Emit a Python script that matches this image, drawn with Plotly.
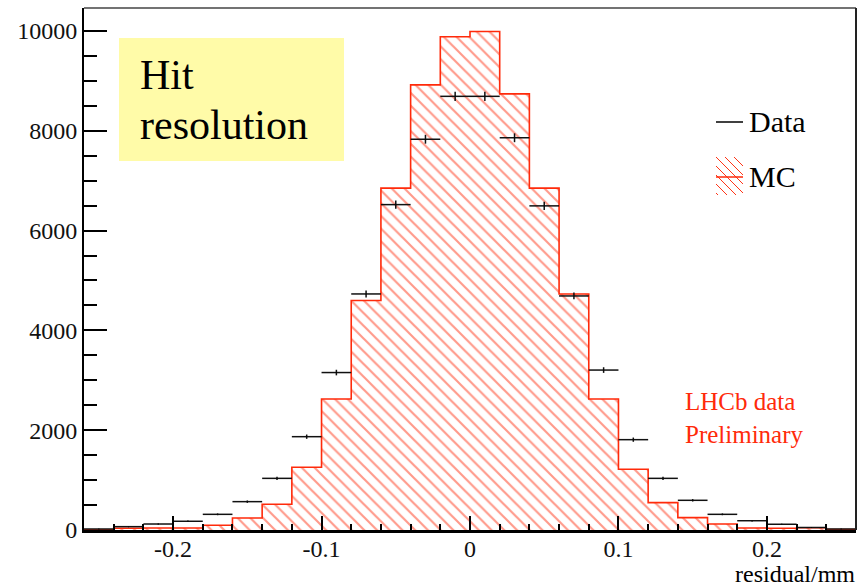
import numpy as np
import plotly.graph_objects as go

# ---------------- data ----------------
bin_edges = [round(-0.26 + 0.02 * i, 2) for i in range(27)]
bin_centers = [round(-0.25 + 0.02 * i, 2) for i in range(26)]

mc_counts = [5, 35, 40, 40, 94, 240, 515, 1256, 2625, 4600, 6850, 8920, 9885,
             9990, 8740, 6850, 4730, 2625, 1216, 548, 247, 120, 40, 35, 45, 10]
data_counts = [20, 67, 120, 175, 314, 568, 1035, 1870, 3155, 4730, 6520, 7830, 8690,
               8690, 7860, 6495, 4690, 3205, 1810, 1035, 595, 314, 186, 115, 50, 20]

x_tick_vals = [-0.2, -0.1, 0.0, 0.1, 0.2]
x_tick_text = ["-0.2", "-0.1", "0", "0.1", "0.2"]
y_tick_vals = [0, 2000, 4000, 6000, 8000, 10000]
y_tick_text = ["0", "2000", "4000", "6000", "8000", "10000"]

RED = "#ff2a0a"
HATCH = "#ff3416"
SERIF = "Liberation Serif, Times New Roman, serif"

W, H = 859, 586
L, R, T, B = 84, 3, 8, 56
PW, PH = W - L - R, H - T - B


def px(xp):
    return (xp - L) / PW


def py(yp):
    return (H - B - yp) / PH


fig = go.Figure()

# MC histogram (hatched)
fig.add_trace(go.Bar(
    x=bin_centers, y=mc_counts, width=0.02,
    marker=dict(color="white", line=dict(width=0),
                pattern=dict(shape="\\", fgcolor=HATCH, bgcolor="white",
                             size=9, solidity=0.24)),
    showlegend=False, hoverinfo="skip"))

# MC outline
fig.add_trace(go.Scatter(
    x=bin_edges, y=mc_counts + [mc_counts[-1]], mode="lines",
    line=dict(shape="hv", color=RED, width=1.6),
    showlegend=False, hoverinfo="skip"))

# Data points with errors
fig.add_trace(go.Scatter(
    x=bin_centers, y=data_counts, mode="markers",
    marker=dict(size=1, color="black"),
    error_x=dict(type="constant", value=0.01, thickness=1.5, width=0, color="#111"),
    error_y=dict(type="data", array=list(np.sqrt(data_counts)), thickness=1.5,
                 width=0, color="#111"),
    showlegend=False))

shapes = []
# frame top / right
shapes.append(dict(type="line", xref="paper", yref="paper", x0=0, x1=1, y0=1, y1=1,
                   line=dict(color="#444", width=1.5)))
shapes.append(dict(type="line", xref="paper", yref="paper", x0=1, x1=1, y0=0, y1=1,
                   line=dict(color="#222", width=2)))
# yellow box
shapes.append(dict(type="rect", xref="paper", yref="paper",
                   x0=px(119), x1=px(344), y0=py(161), y1=py(38),
                   fillcolor="#fffba8", line=dict(width=0), layer="below"))
# legend: data line
shapes.append(dict(type="line", xref="paper", yref="paper",
                   x0=px(716), x1=px(743), y0=py(122), y1=py(122),
                   line=dict(color="black", width=1.5)))
# legend: MC hatch symbol
bx0, bx1, by0, by1 = 716, 743, 157, 195
for off in range(-36, 28, 9):
    xs = max(bx0, bx0 + off)
    xe = min(bx1, bx0 + off + (by1 - by0))
    if xe <= xs:
        continue
    ys = by0 + (xs - (bx0 + off))
    ye = by0 + (xe - (bx0 + off))
    shapes.append(dict(type="line", xref="paper", yref="paper",
                       x0=px(xs), x1=px(xe), y0=py(ys), y1=py(ye),
                       line=dict(color=HATCH, width=1)))
shapes.append(dict(type="line", xref="paper", yref="paper",
                   x0=px(716), x1=px(743), y0=py(177), y1=py(177),
                   line=dict(color=RED, width=1.5)))

annotations = [
    dict(text="Hit", x=px(138), y=py(75), font=dict(size=42, color="black", family=SERIF)),
    dict(text="resolution", x=px(138), y=py(125), font=dict(size=42, color="black", family=SERIF)),
    dict(text="Data", x=px(747), y=py(122), font=dict(size=30, color="black", family=SERIF)),
    dict(text="MC", x=px(747), y=py(177), font=dict(size=30, color="black", family=SERIF)),
    dict(text="LHCb data", x=px(683), y=py(401), font=dict(size=25, color=RED, family=SERIF)),
    dict(text="Preliminary", x=px(683), y=py(434), font=dict(size=25, color=RED, family=SERIF)),
]
for a in annotations:
    a.update(xref="paper", yref="paper", xanchor="left", yanchor="middle",
             showarrow=False)
annotations.append(dict(text="residual/mm", x=px(857), y=py(574), xref="paper", yref="paper",
                        xanchor="right", yanchor="middle", showarrow=False,
                        font=dict(size=24, color="black", family=SERIF)))

fig.update_layout(
    width=W, height=H,
    margin=dict(l=L, r=R, t=T, b=B, pad=0),
    paper_bgcolor="white", plot_bgcolor="white",
    bargap=0, shapes=shapes, annotations=annotations,
    showlegend=False,
    xaxis=dict(range=[-0.26, 0.26], tickmode="array", tickvals=x_tick_vals,
               ticktext=x_tick_text, ticks="inside", ticklen=14, tickwidth=1.5,
               tickcolor="black", showgrid=False, zeroline=False,
               showline=True, linecolor="black", linewidth=2.5,
               ticklabelstandoff=-5,
               tickfont=dict(family=SERIF, size=24, color="#111"),
               minor=dict(tickmode="linear", tick0=0, dtick=0.02, ticks="inside",
                          ticklen=6, tickwidth=1.5, tickcolor="black", showgrid=False)),
    yaxis=dict(range=[0, 10460], tickmode="array", tickvals=y_tick_vals,
               ticktext=y_tick_text, ticks="inside", ticklen=23, tickwidth=1.5,
               tickcolor="black", showgrid=False, zeroline=False,
               showline=True, linecolor="black", linewidth=2,
               tickfont=dict(family=SERIF, size=24, color="#111"),
               minor=dict(tickmode="linear", tick0=0, dtick=500, ticks="inside",
                          ticklen=13, tickwidth=1.5, tickcolor="black", showgrid=False)),
)

fig.write_html("out.html")
